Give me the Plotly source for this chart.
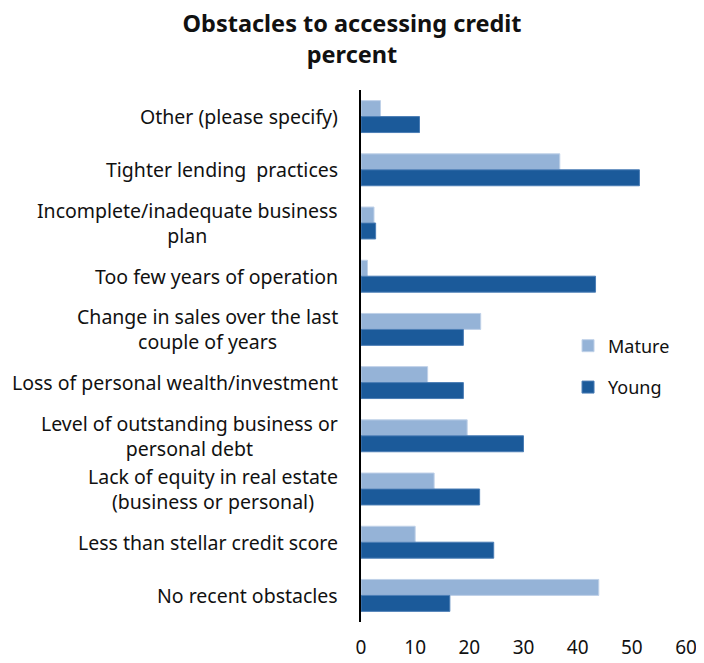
import plotly.graph_objects as go

categories = [
    "Other (please specify)",
    "Tighter lending  practices",
    "Incomplete/inadequate business<br>plan",
    "Too few years of operation",
    "Change in sales over the last<br>couple of years",
    "Loss of personal wealth/investment",
    "Level of outstanding business or<br>personal debt",
    "Lack of equity in real estate<br>(business or personal)",
    "Less than stellar credit score",
    "No recent obstacles",
]
mature = [3.6, 36.7, 2.4, 1.2, 22.1, 12.3, 19.6, 13.5, 10.0, 43.9]
young = [10.8, 51.4, 2.7, 43.3, 18.9, 18.9, 30.0, 21.9, 24.5, 16.4]
x_ticks = [0, 10, 20, 30, 40, 50, 60]

FONT = "Noto Sans"
W, H = 696, 655

fig = go.Figure()
fig.add_trace(go.Bar(y=categories, x=mature, name="Mature", orientation="h",
                     marker=dict(color="#95B3D7", line=dict(color="#BFD1E8", width=1)),
                     legendgroup="m"))
fig.add_trace(go.Bar(y=categories, x=young, name="Young", orientation="h",
                     marker=dict(color="#1B5A9A", line=dict(color="#4A7DB5", width=1)),
                     legendgroup="y"))

for c in categories:
    fig.add_annotation(x=0, y=c, xref="x", yref="y", text=c, showarrow=False,
                       xanchor="right", align="center", xshift=-21,
                       font=dict(family=FONT, size=19.5, color="#111111"))

fig.update_layout(
    width=W, height=H,
    margin=dict(l=353, r=18, t=82, b=41),
    paper_bgcolor="white", plot_bgcolor="white",
    barmode="group", bargap=0.4, bargroupgap=0,
    title=dict(text="<b>Obstacles to accessing credit<br>percent</b>",
               x=344 / W, xanchor="center", y=1 - 24 / H, yanchor="top",
               font=dict(family=FONT, size=23.5, color="#111111")),
    font=dict(family=FONT, size=17, color="#111111"),
    legend=dict(x=0.637, y=0.5536, xanchor="left", yanchor="top",
                traceorder="grouped", tracegroupgap=15,
                font=dict(family=FONT, size=18, color="#111111"),
                bgcolor="rgba(0,0,0,0)", itemwidth=30),
    xaxis=dict(range=[0, 60], tickvals=x_ticks, showgrid=False, zeroline=False,
               showline=False, ticks="", ticklabelstandoff=12, automargin=False,
               tickfont=dict(family=FONT, size=19, color="#111111")),
    yaxis=dict(autorange="reversed", showticklabels=False, showgrid=False,
               showline=True, linecolor="black", linewidth=1.5, ticks="",
               automargin=False),
)

fig.write_html("out.html")
